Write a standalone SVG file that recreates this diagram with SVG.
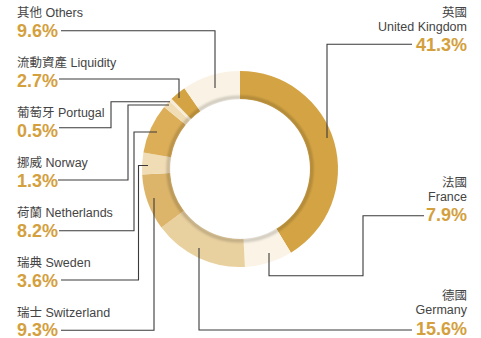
<svg xmlns="http://www.w3.org/2000/svg" width="481" height="338" viewBox="0 0 481 338">
<style>
.lbl{font-family:"Liberation Sans","Noto Sans CJK TC",sans-serif;font-size:12.5px;fill:#444}
.pct{font-family:"Liberation Sans","Noto Sans CJK TC",sans-serif;font-size:18px;font-weight:bold;fill:#D4A03E}
.r{text-anchor:end}
.ld{fill:none;stroke:#3a3a3a;stroke-width:1.1}
</style>
<defs>
<filter id="blur" x="-10%" y="-10%" width="120%" height="120%"><feGaussianBlur stdDeviation="0.8"/></filter>
</defs>
<rect width="481" height="338" fill="#fff"/>
<g id="ring">
<path id="seg-uk" d="M240,71 A98,98 0 0 1 290.94,252.72 L276.39,228.8 A70,70 0 0 0 240,99 Z" fill="#D4A444"/>
<path id="seg-france" d="M290.94,252.72 A98,98 0 0 1 244.92,266.88 L243.52,238.91 A70,70 0 0 0 276.39,228.8 Z" fill="#FBF4E6"/>
<path id="seg-germany" d="M244.92,266.88 A98,98 0 0 1 161.45,227.6 L183.89,210.85 A70,70 0 0 0 243.52,238.91 Z" fill="#E9D09F"/>
<path id="seg-switzerland" d="M161.45,227.6 A98,98 0 0 1 142.16,174.54 L170.11,172.96 A70,70 0 0 0 183.89,210.85 Z" fill="#DDB56A"/>
<path id="seg-sweden" d="M142.16,174.54 A98,98 0 0 1 143.41,152.45 L171,157.18 A70,70 0 0 0 170.11,172.96 Z" fill="#F0DDB5"/>
<path id="seg-netherlands" d="M143.41,152.45 A98,98 0 0 1 164.1,107.01 L185.78,124.72 A70,70 0 0 0 171,157.18 Z" fill="#DCAE58"/>
<path id="seg-norway" d="M164.1,107.01 A98,98 0 0 1 169.41,101.02 L189.58,120.44 A70,70 0 0 0 185.78,124.72 Z" fill="#F0DDB5"/>
<path id="seg-portugal" d="M169.41,101.02 A98,98 0 0 1 171.58,98.84 L191.13,118.88 A70,70 0 0 0 189.58,120.44 Z" fill="#F7ECD8"/>
<path id="seg-liquidity" d="M171.58,98.84 A98,98 0 0 1 184.41,88.29 L200.29,111.35 A70,70 0 0 0 191.13,118.88 Z" fill="#D4A444"/>
<path id="seg-others" d="M184.41,88.29 A98,98 0 0 1 240,71 L240,99 A70,70 0 0 0 200.29,111.35 Z" fill="#FAF3E5"/>
<circle cx="240" cy="169" r="71.8" fill="none" stroke="#000" stroke-opacity="0.17" stroke-width="3.6" filter="url(#blur)"/>
<circle cx="240" cy="169" r="69.6" fill="#fff"/>
</g>
<g id="connectors">
<polyline class="ld" points="61,30.7 215,30.7 215,88"/>
<polyline class="ld" points="59,79 179,79 179,98"/>
<polyline class="ld" points="59,127.7 111,127.7 111,101.7 170,101.7"/>
<polyline class="ld" points="58,180 128,180 128,105 169,105"/>
<polyline class="ld" points="59,230.7 134,230.7 134,132 157,132"/>
<polyline class="ld" points="61,280 138.5,280 138.5,165.5 148,165.5"/>
<polyline class="ld" points="61,330.2 154,330.2 154,198"/>
<polyline class="ld" points="199,248 199,330 412,330"/>
<polyline class="ld" points="269,253 269,275.7 363,275.7 363,215.7 424,215.7"/>
<polyline class="ld" points="327,138 327,44.3 412,44.3"/>
</g>
<g id="label-others"><text class="lbl" x="17" y="17">其他 Others</text><text class="pct" x="17" y="36.5">9.6%</text></g>
<g id="label-liquidity"><text class="lbl" x="17" y="67">流動資產 Liquidity</text><text class="pct" x="17" y="86.5">2.7%</text></g>
<g id="label-portugal"><text class="lbl" x="17" y="117">葡萄牙 Portugal</text><text class="pct" x="17" y="136.5">0.5%</text></g>
<g id="label-norway"><text class="lbl" x="17" y="167">挪威 Norway</text><text class="pct" x="17" y="186.5">1.3%</text></g>
<g id="label-netherlands"><text class="lbl" x="17" y="217">荷蘭 Netherlands</text><text class="pct" x="17" y="236.5">8.2%</text></g>
<g id="label-sweden"><text class="lbl" x="17" y="267">瑞典 Sweden</text><text class="pct" x="17" y="286.5">3.6%</text></g>
<g id="label-switzerland"><text class="lbl" x="17" y="316.5">瑞士 Switzerland</text><text class="pct" x="17" y="335.5">9.3%</text></g>
<g id="label-uk"><text class="lbl r" x="467" y="17.3">英國</text><text class="lbl r" x="467" y="31">United Kingdom</text><text class="pct r" x="467" y="51">41.3%</text></g>
<g id="label-france"><text class="lbl r" x="467" y="187">法國</text><text class="lbl r" x="467" y="201">France</text><text class="pct r" x="467" y="221">7.9%</text></g>
<g id="label-germany"><text class="lbl r" x="467" y="299.5">德國</text><text class="lbl r" x="467" y="314">Germany</text><text class="pct r" x="467" y="334.5">15.6%</text></g>
</svg>
